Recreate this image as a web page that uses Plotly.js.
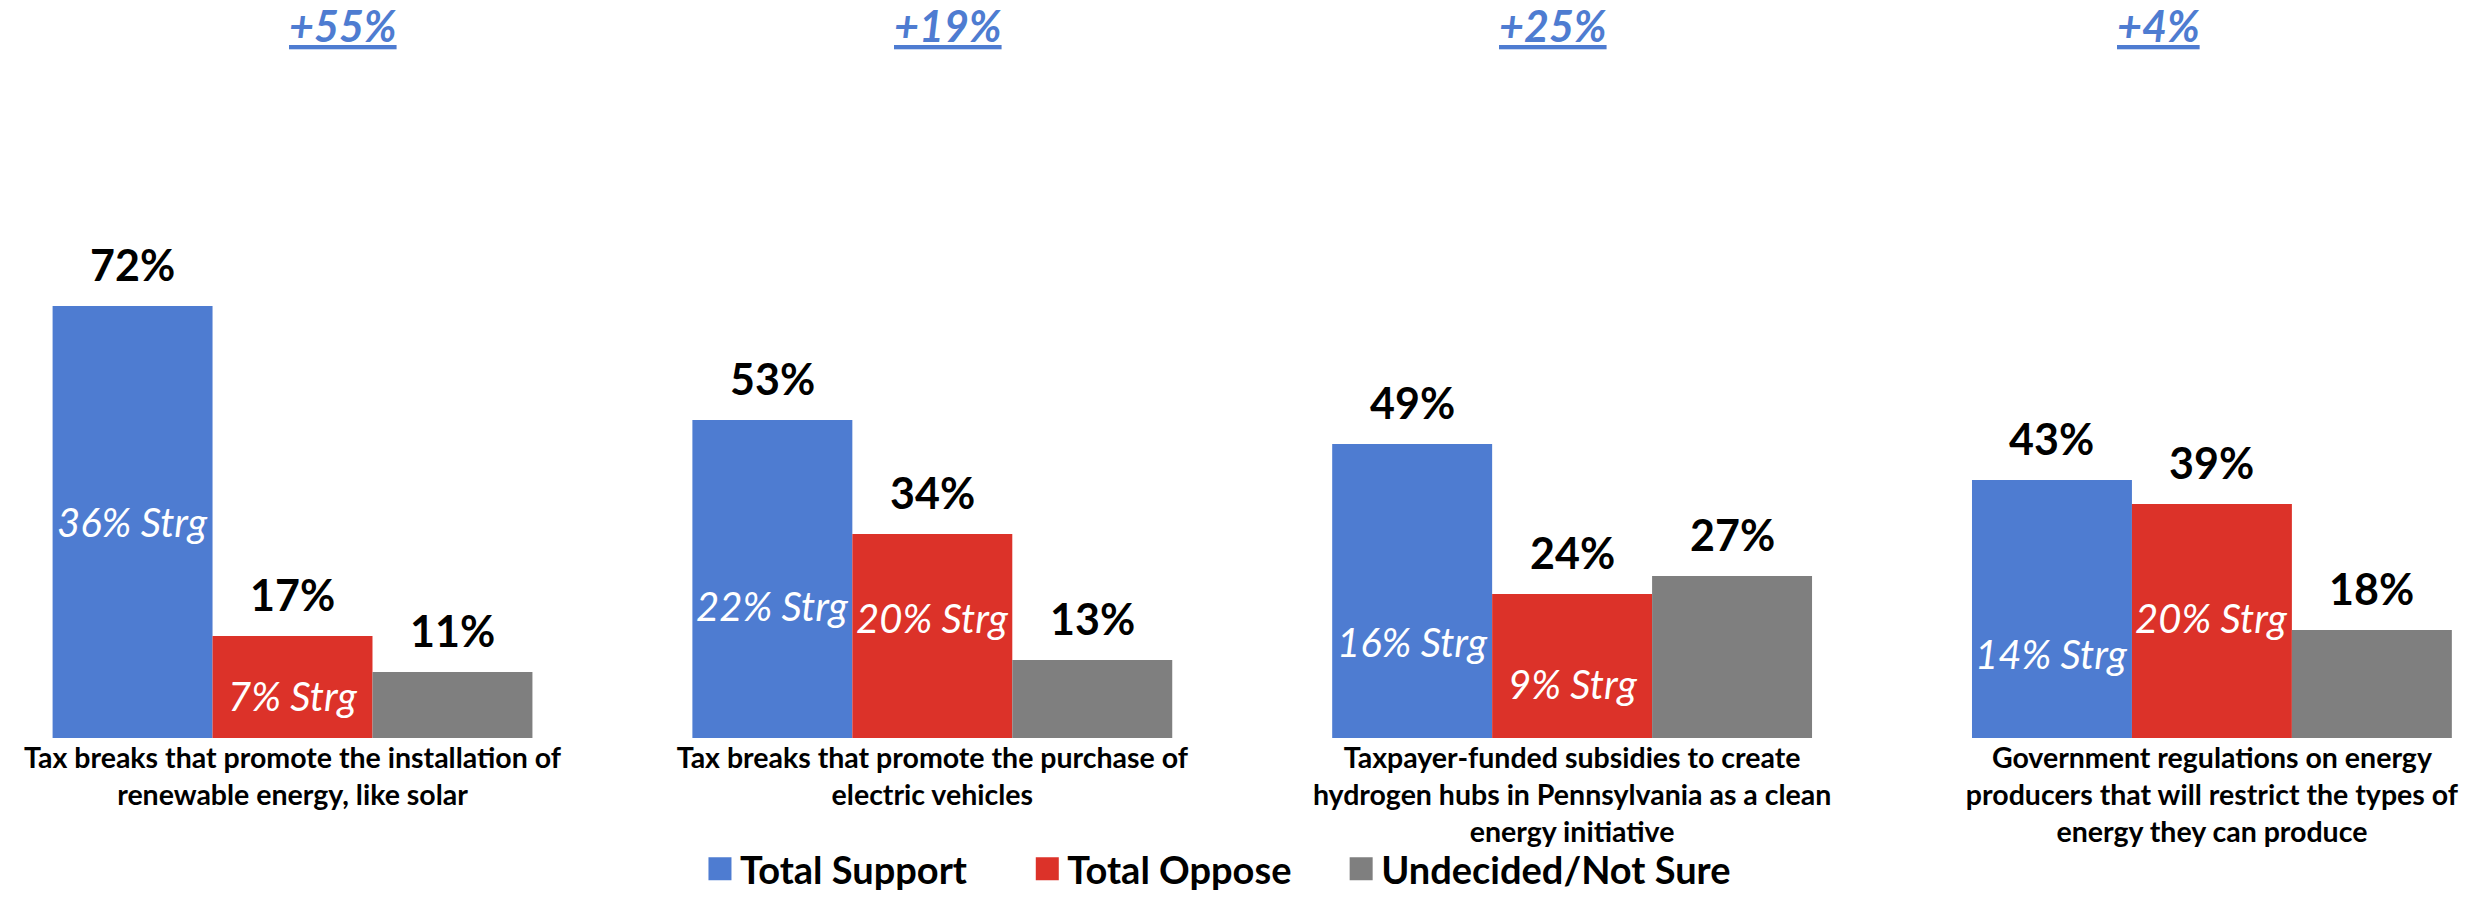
<!DOCTYPE html>
<html>
<head>
<meta charset="utf-8">
<script src="https://cdn.plot.ly/plotly-3.0.1.min.js"></script>
<style>
  html, body { margin: 0; padding: 0; background: #fff; }
  #chart { width: 2491px; height: 914px; }
</style>
</head>
<body>
<div id="chart"></div>
<script>
// ---- data ----
var categories = [
  "Tax breaks that promote the installation of<br>renewable energy, like solar",
  "Tax breaks that promote the purchase of<br>electric vehicles",
  "Taxpayer-funded subsidies to create<br>hydrogen hubs in Pennsylvania as a clean<br>energy initiative",
  "Government regulations on energy<br>producers that will restrict the types of<br>energy they can produce"
];
var seriesNames = ["Total Support", "Total Oppose", "Undecided/Not Sure"];
var totalSupport = [72, 53, 49, 43];
var totalOppose = [17, 34, 24, 39];
var undecided = [11, 13, 27, 18];
var strongSupport = [36, 22, 16, 14];
var strongOppose = [7, 20, 9, 20];
var netLabels = ["+55%", "+19%", "+25%", "+4%"];

// ---- styles ----
var colors = ["#4E7CD1", "#DC3229", "#7F7F7F"];
var FONT = "Lato, 'Open Sans', sans-serif";
var legendNames = ["legend", "legend2", "legend3"];
var legendX = [0.2810, 0.4124, 0.5384];

var values = [totalSupport, totalOppose, undecided];
var traces = values.map(function (v, k) {
  return {
    type: "bar",
    name: seriesNames[k],
    x: categories,
    y: v,
    legend: legendNames[k],
    marker: { color: colors[k], line: { width: 0 } },
    hoverinfo: "skip"
  };
});

var annotations = [];
var offsets = [-0.25, 0, 0.25];
// value labels on top of bars
values.forEach(function (v, k) {
  v.forEach(function (val, i) {
    annotations.push({
      x: i + offsets[k], y: val, xref: "x", yref: "y",
      text: "<b>" + val + "%</b>", showarrow: false,
      xanchor: "center", yanchor: "bottom", yshift: 14,
      font: { family: FONT, size: 43, color: "#000" }
    });
  });
});
// strong labels inside bars
[strongSupport, strongOppose].forEach(function (v, k) {
  v.forEach(function (val, i) {
    annotations.push({
      x: i + offsets[k], y: val, xref: "x", yref: "y",
      text: "<i>" + val + "% Strg</i>", showarrow: false,
      xanchor: "center", yanchor: "middle",
      font: { family: FONT, size: 40, color: "#fff" }
    });
  });
});
// net labels at top
netLabels.forEach(function (t, i) {
  annotations.push({
    x: 0.1377 + i * 0.2429, y: 1, xref: "paper", yref: "paper",
    text: "<b><i><u>" + t + "</u></i></b>", showarrow: false,
    xanchor: "center", yanchor: "middle", yshift: -7,
    font: { family: FONT, size: 43, color: "#4E7CD1" }
  });
});

var legendBase = {
  orientation: "h", xanchor: "left", y: -0.182, yanchor: "middle",
  font: { family: FONT, size: 38, color: "#000", weight: "bold" },
  bgcolor: "rgba(0,0,0,0)"
};

var layout = {
  width: 2491, height: 914,
  margin: { l: 0, r: 0, t: 18, b: 176, autoexpand: false },
  paper_bgcolor: "#fff", plot_bgcolor: "#fff",
  barmode: "group", bargap: 0.25, bargroupgap: 0,
  showlegend: true,
  xaxis: {
    type: "category", range: [-0.4572, 3.4362],
    showgrid: false, zeroline: false, showline: false, ticks: "",
    tickfont: { family: FONT, size: 28.5, color: "#000", weight: "bold" },
    fixedrange: true
  },
  yaxis: {
    range: [0, 120], visible: false, showgrid: false, zeroline: false, fixedrange: true
  },
  annotations: annotations
};
legendNames.forEach(function (ln, k) {
  layout[ln] = Object.assign({}, legendBase, { x: legendX[k] });
});

Plotly.newPlot("chart", traces, layout, { staticPlot: true }).then(function () {
  document.querySelectorAll(".legendpoints path").forEach(function (p) {
    p.setAttribute("d", "M11.5,11.5H-11.5V-11.5H11.5Z");
  });
});
</script>
</body>
</html>
